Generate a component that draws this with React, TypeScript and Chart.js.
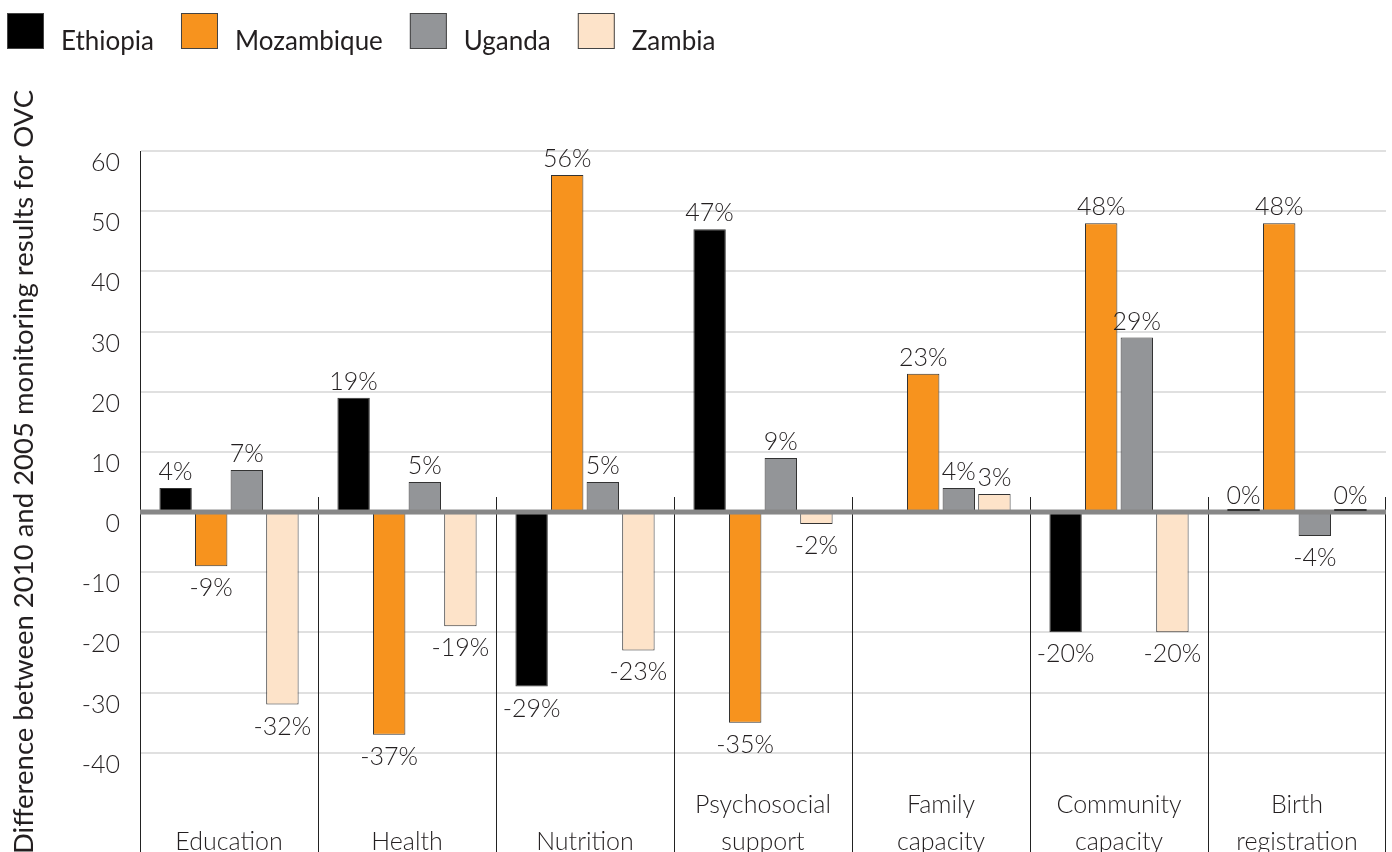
import React, { useEffect, useRef } from "react";
import { Chart, registerables } from "chart.js";

Chart.register(...registerables);

const categories = [
  "Education",
  "Health",
  "Nutrition",
  "Psychosocial\nsupport",
  "Family\ncapacity",
  "Community\ncapacity",
  "Birth\nregistration",
];
const seriesNames = ["Ethiopia", "Mozambique", "Uganda", "Zambia"];
const ethiopia = [4, 19, -29, 47, null, -20, 0];
const mozambique = [-9, -37, 56, -35, 23, 48, 48];
const uganda = [7, 5, 5, 9, 4, 29, -4];
const zambia = [-32, -19, -23, -2, 3, -20, 0];
const seriesColors = ["#000000", "#F7931E", "#939598", "#FDE3C9"];
const yTicks = [60, 50, 40, 30, 20, 10, 0, -10, -20, -30, -40];
const yMin = -56.5;
const yMax = 60;
const yTitle = "Difference between 2010 and 2005 monitoring results for OVC";

const FONT = "Lato, 'Open Sans', 'DejaVu Sans', sans-serif";
const TEXT = "#231f20";

const decorPlugin = {
  id: "decor",
  beforeDatasetsDraw(chart: any) {
    const { ctx, chartArea, scales } = chart;
    const x = scales.x;
    const y = scales.y;
    const zeroY = y.getPixelForValue(0);
    ctx.save();
    ctx.strokeStyle = "#222";
    ctx.lineWidth = 1;
    for (let i = 0; i < categories.length; i++) {
      const bx =
        i < categories.length - 1
          ? (x.getPixelForValue(i) + x.getPixelForValue(i + 1)) / 2
          : chartArea.right - 1;
      const px = Math.round(bx) + 0.5;
      ctx.beginPath();
      ctx.moveTo(px, zeroY - 15);
      ctx.lineTo(px, chartArea.bottom);
      ctx.stroke();
    }
    ctx.restore();
  },
  afterDatasetsDraw(chart: any) {
    const { ctx, chartArea, scales } = chart;
    const x = scales.x;
    const y = scales.y;
    const zeroY = y.getPixelForValue(0);
    ctx.save();
    // zero line
    ctx.fillStyle = "#878787";
    ctx.fillRect(chartArea.left, zeroY - 2.5, chartArea.right - chartArea.left, 5);
    // zero-valued bars and data labels
    ctx.font = `300 25px ${FONT}`;
    ctx.fillStyle = TEXT;
    ctx.textAlign = "center";
    ctx.textBaseline = "alphabetic";
    chart.data.datasets.forEach((ds: any, di: number) => {
      const meta = chart.getDatasetMeta(di);
      meta.data.forEach((el: any, i: number) => {
        const v = ds.data[i];
        if (v === null || v === undefined) return;
        const w = el.width;
        if (v === 0) {
          ctx.fillStyle = "#333";
          ctx.fillRect(el.x - w / 2, zeroY - 3, w, 2);
          ctx.fillStyle = TEXT;
        }
        const label = `${v}%`;
        if (v >= 0) {
          ctx.fillText(label, el.x, el.y - 8);
        } else {
          ctx.fillText(label, el.x, el.y + 30);
        }
      });
    });
    // category labels
    ctx.font = `300 25px ${FONT}`;
    const lastBase = chartArea.bottom - 2;
    categories.forEach((c, i) => {
      const lines = c.split("\n");
      const cx = x.getPixelForValue(i);
      lines.forEach((ln, li) => {
        const by = lastBase - (lines.length - 1 - li) * 37;
        ctx.fillText(ln, cx, by);
      });
    });
    ctx.restore();
  },
  afterDraw(chart: any) {
    const { ctx } = chart;
    ctx.save();
    // legend
    ctx.font = `400 26px ${FONT}`;
    ctx.textAlign = "left";
    ctx.textBaseline = "alphabetic";
    let lx = 7;
    chart.data.datasets.forEach((ds: any) => {
      ctx.fillStyle = ds.backgroundColor;
      ctx.fillRect(lx, 13, 37, 36);
      ctx.strokeStyle = "#444";
      ctx.lineWidth = 1;
      ctx.strokeRect(lx + 0.5, 13.5, 36, 35);
      ctx.fillStyle = TEXT;
      const tx = lx + 54;
      ctx.fillText(ds.label, tx, 50);
      lx = tx + ctx.measureText(ds.label).width + 27;
    });
    // y title
    ctx.translate(33, 472);
    ctx.rotate(-Math.PI / 2);
    ctx.textAlign = "center";
    ctx.font = `400 27.5px ${FONT}`;
    ctx.fillText(yTitle, 0, 0);
    ctx.restore();
  },
};

export default function App() {
  const ref = useRef<HTMLCanvasElement | null>(null);
  useEffect(() => {
    if (!ref.current) return;
    const values = [ethiopia, mozambique, uganda, zambia];
    const chart = new Chart(ref.current, {
      type: "bar",
      data: {
        labels: categories,
        datasets: seriesNames.map((name, i) => ({
          label: name,
          data: values[i],
          backgroundColor: seriesColors[i],
          borderColor: "#333333",
          borderWidth: 1,
          categoryPercentage: 0.8,
          barPercentage: 0.91,
        })),
      },
      options: {
        animation: false,
        responsive: true,
        maintainAspectRatio: false,
        layout: { padding: { top: 151, left: 0, right: 6, bottom: 0 } },
        plugins: {
          legend: { display: false },
          tooltip: { enabled: false },
          title: { display: false },
        },
        scales: {
          x: { type: "category", display: false, offset: true },
          y: {
            type: "linear",
            min: yMin,
            max: yMax,
            afterBuildTicks: (scale: any) => {
              scale.ticks = yTicks.map((v) => ({ value: v }));
            },
            afterFit: (scale: any) => {
              scale.width = 140;
              scale.paddingBottom = 0;
              scale.paddingTop = 0;
            },
            grid: {
              drawTicks: false,
              color: (c: any) => (c.tick && c.tick.value === 0 ? "rgba(0,0,0,0)" : "#e0e0e0"),
              lineWidth: 2,
            },
            border: { display: true, color: "#222", width: 1 },
            ticks: {
              padding: 20,
              labelOffset: 12,
              color: TEXT,
              font: { family: FONT, size: 25, weight: "300" },
              callback: (v: any) => String(v),
            },
          },
        },
      },
      plugins: [decorPlugin],
    } as any);
    return () => chart.destroy();
  }, []);
  return (
    <div style={{ position: "fixed", left: 0, top: 0, width: 1392, height: 852, background: "#fff" }}>
      <canvas ref={ref} />
    </div>
  );
}
